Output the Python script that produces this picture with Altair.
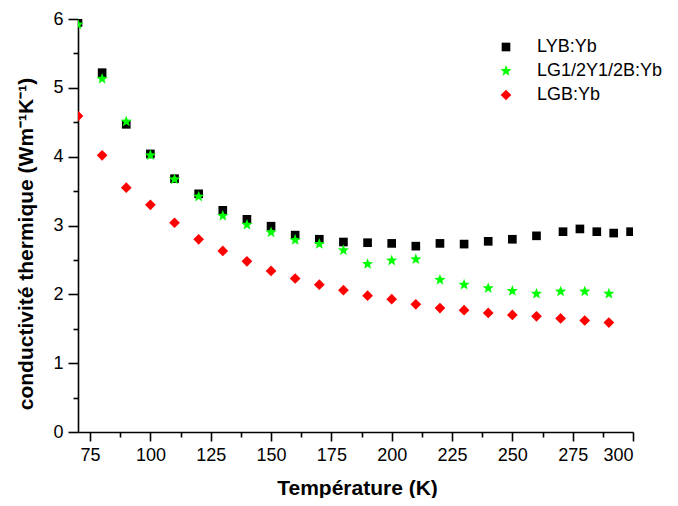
import altair as alt
import pandas as pd

series_names = ["LYB:Yb", "LG1/2Y1/2B:Yb", "LGB:Yb"]
series_colors = ["#000000", "#00ff00", "#ff0000"]
# five-pointed star as a custom symbol path (unit coordinates)
STAR = ("M0,-1L0.247,-0.34L0.951,-0.309L0.399,0.13L0.588,0.809L0,0.42"
        "L-0.588,0.809L-0.399,0.13L-0.951,-0.309L-0.247,-0.34Z")
series_shapes = ["square", STAR, "diamond"]
series_sizes = [75, 140, 115]

t_lyb = [70, 80, 90, 100, 110, 120, 130, 140, 150, 160, 170, 180, 190, 200,
         210, 220, 230, 240, 250, 260, 271, 278, 285, 292, 299]
k_lyb = [5.95, 5.22, 4.47, 4.04, 3.68, 3.46, 3.22, 3.09, 2.99, 2.86, 2.80, 2.76,
         2.75, 2.74, 2.70, 2.74, 2.73, 2.77, 2.80, 2.85, 2.91, 2.95, 2.91, 2.89, 2.91]

t_lg = [70, 80, 90, 100, 110, 120, 130, 140, 150, 160, 170, 180, 190, 200,
        210, 220, 230, 240, 250, 260, 270, 280, 290]
k_lg = [5.92, 5.13, 4.51, 4.02, 3.67, 3.42, 3.14, 3.01, 2.90, 2.79, 2.73, 2.64,
        2.44, 2.49, 2.51, 2.21, 2.14, 2.09, 2.05, 2.01, 2.04, 2.04, 2.01]

t_lgb = [70, 80, 90, 100, 110, 120, 130, 140, 150, 160, 170, 180, 190, 200,
         210, 220, 230, 240, 250, 260, 270, 280, 290]
k_lgb = [4.59, 4.02, 3.55, 3.30, 3.04, 2.80, 2.63, 2.48, 2.34, 2.23, 2.14, 2.06,
         1.98, 1.93, 1.855, 1.80, 1.77, 1.73, 1.70, 1.68, 1.65, 1.62, 1.59]

x_major = [75, 100, 125, 150, 175, 200, 225, 250, 275, 300]
x_minor = [87.5, 112.5, 137.5, 162.5, 187.5, 212.5, 237.5, 262.5, 287.5]
y_major = [0, 1, 2, 3, 4, 5, 6]
y_minor = [0.5, 1.5, 2.5, 3.5, 4.5, 5.5]

rows = []
for name, ts, ks in [(series_names[0], t_lyb, k_lyb),
                     (series_names[1], t_lg, k_lg),
                     (series_names[2], t_lgb, k_lgb)]:
    for t, k in zip(ts, ks):
        rows.append({"serie": name, "T": t, "k": k})
df = pd.DataFrame(rows)

FONT = "Liberation Sans"
x_scale = alt.Scale(domain=[70, 300], nice=False, zero=False)
y_scale = alt.Scale(domain=[0, 6], nice=False)

points = alt.Chart(df).mark_point(filled=True, opacity=1, clip=True, strokeWidth=0).encode(
    x=alt.X("T:Q", scale=x_scale,
            axis=alt.Axis(
                title="Température (K)",
                values=x_major,
                format="d",
                tickSize=9,
                labelPadding=5,
                titleX=279,
                titleY=62.5,
                titleBaseline="alphabetic",
                titleAlign="center",
                orient="bottom",
            )),
    y=alt.Y("k:Q", scale=y_scale,
            axis=alt.Axis(
                title="conductivité thermique (Wm⁻¹K⁻¹)",
                values=y_major,
                format="d",
                tickSize=10,
                labelPadding=5,
                titleX=-52,
                titleY=224.5,
                titleBaseline="middle",
                titleAlign="center",
                orient="left",
            )),
    color=alt.Color("serie:N",
                    scale=alt.Scale(domain=series_names, range=series_colors),
                    legend=alt.Legend(title=None, orient="none", legendX=419, legendY=19,
                                      labelFontSize=18, labelFont=FONT, labelColor="#000000",
                                      labelLimit=400, rowPadding=6, labelOffset=22,
                                      padding=0, symbolStrokeWidth=0)),
    shape=alt.Shape("serie:N",
                    scale=alt.Scale(domain=series_names, range=series_shapes)),
    size=alt.Size("serie:N",
                  scale=alt.Scale(type="ordinal", domain=series_names, range=series_sizes)),
)

minor = alt.Chart(df).mark_point(opacity=0, size=1).encode(
    x=alt.X("T:Q", scale=x_scale,
            axis=alt.Axis(title=None, values=x_minor, labels=False, domain=False,
                          tickSize=5, orient="bottom")),
    y=alt.Y("k:Q", scale=y_scale,
            axis=alt.Axis(title=None, values=y_minor, labels=False, domain=False,
                          tickSize=5, orient="left")),
)

chart = alt.layer(minor, points).resolve_axis(
    x="independent", y="independent"
).properties(
    width=555,
    height=413,
    autosize=alt.AutoSizeParams(type="none"),
    padding={"left": 70, "top": 11, "right": 37, "bottom": 66},
).configure_view(
    stroke=None
).configure_axis(
    grid=False,
    domainColor="#000000",
    domainWidth=1.6,
    tickColor="#000000",
    tickWidth=1.6,
    labelFont=FONT,
    labelFontSize=18,
    labelColor="#000000",
    titleFont=FONT,
    titleFontSize=21,
    titleFontWeight="bold",
    titleColor="#000000",
)

chart.save("out.html", embed_options={"renderer": "svg", "actions": False})
